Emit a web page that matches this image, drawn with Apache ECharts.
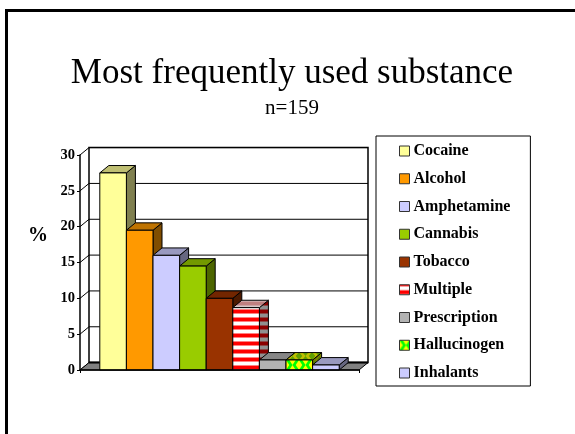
<!DOCTYPE html>
<html><head><meta charset="utf-8">
<style>html,body{margin:0;padding:0;background:#fff}#c{width:575px;height:434px}</style>
<script src="https://cdn.jsdelivr.net/npm/echarts@6/dist/echarts.min.js"></script>
</head><body><div id="c"></div>
<script>
const categories = ['Cocaine','Alcohol','Amphetamine','Cannabis','Tobacco','Multiple','Prescription','Hallucinogen','Inhalants'];
const percentValues = [27.5,19.5,16,14.5,10,8.7,1.4,1.4,0.7];
const yTicks = [0,5,10,15,20,25,30];
const frontColors = ['#FFFF99','#FF9900','#CCCCFF','#99CC00','#993300',null,'#B2B2B2',null,'#CCCCFF'];
const topColors   = ['#BFBF73','#BF7300','#9999BF','#739900','#732600',null,'#868686',null,'#9999BF'];
const sideColors  = ['#808050','#804D00','#666680','#4D6600','#4D1A00',null,'#595959',null,'#666680'];

const FONT = '"Liberation Serif","Times New Roman",serif';
const DX = 9, DY = 7.4, BAR_RATIO = 26.6 / 279;
const LINE = '#000';

function stripes(a, b) {
  const c = document.createElement('canvas'); c.width = 8; c.height = 8;
  const g = c.getContext('2d');
  g.fillStyle = a; g.fillRect(0,0,8,8);
  g.fillStyle = b; g.fillRect(0,2,8,3);
  g.globalAlpha = .5; g.fillRect(0,1,8,1); g.fillRect(0,5,8,1);
  return {image:c, repeat:'repeat'};
}
function diamonds(bg, fg, w, h) {
  const c = document.createElement('canvas'); c.width = w; c.height = h;
  const g = c.getContext('2d');
  g.fillStyle = bg; g.fillRect(0,0,w,h);
  g.fillStyle = fg;
  [[w/2,0],[w/2,h],[0,h/2],[w,h/2]].forEach(p=>{
    g.beginPath();
    g.moveTo(p[0]-w/4,p[1]);g.lineTo(p[0],p[1]-h/2);g.lineTo(p[0]+w/4,p[1]);g.lineTo(p[0],p[1]+h/2);g.closePath();g.fill();
  });
  return {image:c, repeat:'repeat'};
}
frontColors[5] = stripes('#FF0000','#FFFFFF');
topColors[5]   = stripes('#BF8080','#D8C8C8');
sideColors[5]  = stripes('#8B0000','#909090');
frontColors[7] = diamonds('#00FF00','#FFFF00',13,10);
topColors[7]   = diamonds('#BFBF00','#60A000',13,8);
sideColors[7]  = diamonds('#808000','#508000',9,8);

function wallRender(params, api) {
  if (params.dataIndex !== 0) return;
  const lo = api.coord([0,0]), hi = api.coord([0,yTicks[yTicks.length-1]]);
  const band = api.size([1,0])[0];
  const xL = lo[0]-band/2, xR = lo[0]+band/2, yB = lo[1], yT = hi[1];
  const ch = [];
  const ls = {stroke:LINE,lineWidth:1};
  ch.push({type:'polygon',shape:{points:[[xL+DX,yB-DY],[xR+DX,yB-DY],[xR+DX,yT-DY],[xL+DX,yT-DY]]},style:{fill:'#fff',stroke:LINE,lineWidth:1.5}});
  yTicks.forEach(t=>{
    const y = api.coord([0,t])[1];
    ch.push({type:'polyline',shape:{points:[[xL,y],[xL+DX,y-DY],[xR+DX,y-DY]]},style:{fill:null,...ls}});
  });
  ch.push({type:'polygon',shape:{points:[[xL,yB],[xL+DX,yB-DY],[xR+DX,yB-DY],[xR,yB]]},style:{fill:'#808080',stroke:LINE,lineWidth:1}});
  ch.push({type:'line',shape:{x1:xL+DX,y1:yB-DY,x2:xR+DX,y2:yB-DY},style:{stroke:LINE,lineWidth:2}});
  return {type:'group',children:ch};
}
function barRender(i) {
  return function(params, api) {
    const base = api.coord([0,0]), top = api.coord([0,api.value(1)]);
    const w = api.size([1,0])[0]*BAR_RATIO;
    const x0 = base[0]+(i-categories.length/2)*w, x1 = x0+w, y0 = base[1], y1 = top[1];
    const s = {stroke:LINE,lineWidth:1};
    return {type:'group',children:[
      {type:'polygon',shape:{points:[[x1,y0],[x1+DX,y0-DY],[x1+DX,y1-DY],[x1,y1]]},style:{fill:sideColors[i],...s}},
      {type:'polygon',shape:{points:[[x0,y1],[x0+DX,y1-DY],[x1+DX,y1-DY],[x1,y1]]},style:{fill:topColors[i],...s}},
      {type:'rect',shape:{x:x0,y:y1,width:w,height:y0-y1},style:{fill:frontColors[i],...s}}
    ]};
  };
}
const series = [{type:'custom',name:'wall',silent:true,z:1,data:yTicks.map(t=>[0,t]),renderItem:wallRender,clip:false}];
categories.forEach((n,i)=>series.push({
  type:'custom',name:n,z:2+i,clip:false,
  itemStyle:{color:frontColors[i]},
  encode:{x:0,y:1},
  data:[[0,percentValues[i]]],
  renderItem:barRender(i)
}));

const chart = echarts.init(document.getElementById('c'),null,{width:575,height:434});
chart.setOption({
  animation:false,
  backgroundColor:'#fff',
  title:[
    {text:'Most frequently used substance',left:287,top:51,textAlign:'center',
     textStyle:{fontFamily:FONT,fontSize:35,fontWeight:'normal',color:'#000'}},
    {text:'n=159',left:287,top:93,textAlign:'center',
     textStyle:{fontFamily:FONT,fontSize:21,fontWeight:'normal',color:'#000'}},
    {text:'%',left:23,top:221,
     textStyle:{fontFamily:FONT,fontSize:20,fontWeight:'bold',color:'#000'}}
  ],
  grid:{left:80,right:216,top:155,bottom:64,containLabel:false},
  xAxis:{type:'category',data:[''],z:20,
    axisLine:{show:true,lineStyle:{color:'#000',width:1.5}},
    axisTick:{show:true,length:3,lineStyle:{color:'#000'}},axisLabel:{show:false}},
  yAxis:{type:'value',min:0,max:30,interval:5,z:20,
    axisLine:{show:true,lineStyle:{color:'#000',width:1.5}},
    axisTick:{show:true,length:3,lineStyle:{color:'#000'}},
    splitLine:{show:false},
    axisLabel:{fontFamily:FONT,fontSize:14.5,fontWeight:'bold',color:'#000',margin:5}},
  legend:{orient:'vertical',left:376,top:136,data:categories,
    padding:[7,20,5,23],itemWidth:10,itemHeight:10,itemGap:11.75,
    icon:'rect',selectedMode:false,
    borderColor:'#000',borderWidth:1,backgroundColor:'#fff',
    itemStyle:{borderColor:'#333',borderWidth:1},
    textStyle:{fontFamily:FONT,fontSize:16,fontWeight:'bold',color:'#000',padding:[0,0,0,-1]}},
  graphic:[
    {type:'line',silent:true,shape:{x1:6.5,y1:10.5,x2:6.5,y2:434},style:{stroke:'#000',lineWidth:3}},
    {type:'line',silent:true,shape:{x1:5,y1:10.5,x2:575,y2:10.5},style:{stroke:'#000',lineWidth:3}}
  ],
  series
});
</script></body></html>
